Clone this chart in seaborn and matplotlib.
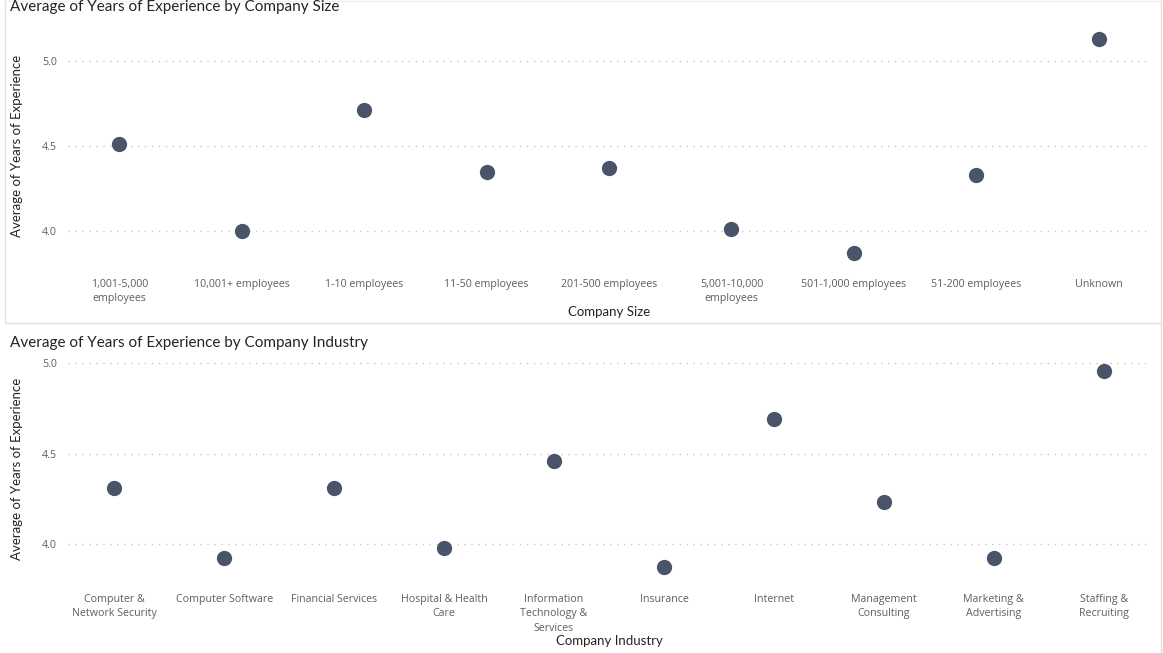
import matplotlib
matplotlib.use("Agg")
import matplotlib.pyplot as plt
import seaborn as sns
import pandas as pd
from matplotlib.lines import Line2D

# ---- data ----
size_categories = ["1,001-5,000 employees", "10,001+ employees", "1-10 employees",
                   "11-50 employees", "201-500 employees", "5,001-10,000 employees",
                   "501-1,000 employees", "51-200 employees", "Unknown"]
size_labels = ["1,001-5,000\nemployees", "10,001+ employees", "1-10 employees",
               "11-50 employees", "201-500 employees", "5,001-10,000\nemployees",
               "501-1,000 employees", "51-200 employees", "Unknown"]
size_values = [4.51, 4.00, 4.71, 4.35, 4.37, 4.01, 3.87, 4.33, 5.13]

industry_categories = ["Computer & Network Security", "Computer Software", "Financial Services",
                       "Hospital & Health Care", "Information Technology & Services",
                       "Insurance", "Internet", "Management Consulting",
                       "Marketing & Advertising", "Staffing & Recruiting"]
industry_labels = ["Computer &\nNetwork Security", "Computer Software", "Financial Services",
                   "Hospital & Health\nCare", "Information\nTechnology &\nServices",
                   "Insurance", "Internet", "Management\nConsulting",
                   "Marketing &\nAdvertising", "Staffing &\nRecruiting"]
industry_values = [4.31, 3.92, 4.31, 3.98, 4.46, 3.87, 4.69, 4.23, 3.92, 4.96]

y_ticks = [4.0, 4.5, 5.0]

# ---- style ----
sns.set_theme(style="white")
plt.rcParams['font.family'] = ['Open Sans', 'DejaVu Sans']

DOT = "#4A5469"
TITLE_C = "#252423"
TICK_C = "#605E5C"
GRID_C = "#C8C6C4"

W, H = 1163, 653
fig = plt.figure(figsize=(W / 100, H / 100), dpi=100)
fig.patch.set_facecolor("white")


def fx(px):
    return px / W


def fy(py):
    return 1 - py / H


def panel(rect, cats, labels, vals, ylim, xlabel, title, title_y, xlabel_y):
    left, top, right, bottom = rect
    ax = fig.add_axes([fx(left), fy(bottom), fx(right - left), (bottom - top) / H])
    df = pd.DataFrame({"cat": cats, "val": vals})
    sns.stripplot(data=df, x="cat", y="val", order=cats, jitter=False, size=11,
                  color=DOT, linewidth=0, ax=ax, zorder=3)
    n = len(cats)
    ax.set_xlim(-0.42, n - 1 + 0.42)
    ax.set_ylim(*ylim)
    ax.set_yticks(y_ticks)
    ax.set_yticklabels([f"{v:.1f}" for v in y_ticks])
    ax.set_xticks(range(n))
    ax.set_xticklabels(labels, linespacing=1.45)
    for s in ax.spines.values():
        s.set_visible(False)
    ax.tick_params(axis="both", length=0, colors=TICK_C, labelsize=7.7)
    ax.tick_params(axis="x", pad=10)
    ax.tick_params(axis="y", pad=8)
    ax.yaxis.grid(True, color=GRID_C, linestyle=(0, (1, 4)), linewidth=1)
    ax.xaxis.grid(False)
    ax.set_axisbelow(True)
    ax.set_xlabel(xlabel, fontsize=9.5, color=TITLE_C, family=['Lato', 'DejaVu Sans'])
    ax.xaxis.label.set_va("center")
    ax.xaxis.set_label_coords(0.5, (bottom - xlabel_y) / (bottom - top))
    ax.set_ylabel("Average of Years of Experience", fontsize=9.5, color=TITLE_C,
                  family=['Lato', 'DejaVu Sans'])
    ax.yaxis.label.set_va("center")
    ax.yaxis.set_label_coords((17 - left) / (right - left), 0.5)
    fig.text(fx(10), fy(title_y), title, fontsize=11.0, color=TITLE_C,
             family=['Lato', 'DejaVu Sans'], va="center", ha="left")
    return ax


panel((68, 27, 1150, 265), size_categories, size_labels, size_values, (3.8, 5.2),
      "Company Size", "Average of Years of Experience by Company Size", 7, 312)
panel((68, 358, 1150, 580), industry_categories, industry_labels, industry_values, (3.8, 5.03),
      "Company Industry", "Average of Years of Experience by Company Industry", 343, 641)

# panel borders
bc = "#E1E1E1"
fig.add_artist(Line2D([fx(5), fx(5)], [fy(0), fy(323)], color=bc, lw=1))
fig.add_artist(Line2D([fx(5), fx(1161)], [fy(323), fy(323)], color=bc, lw=1))
fig.add_artist(Line2D([fx(1161), fx(1161)], [fy(0), fy(653)], color=bc, lw=1))
fig.add_artist(Line2D([fx(5), fx(1161)], [fy(0.5), fy(0.5)], color="#F0F0F0", lw=1))

fig.savefig("out.png", dpi=100, facecolor="white")
